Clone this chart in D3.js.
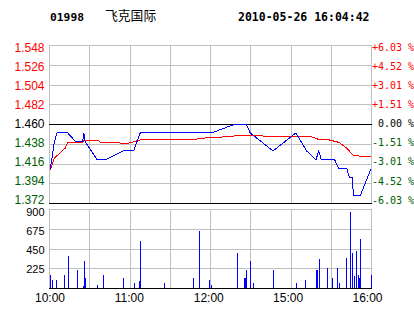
<!DOCTYPE html>
<html><head><meta charset="utf-8">
<script src="https://cdn.jsdelivr.net/npm/d3@7"></script>
<style>body{margin:0;background:#fff}svg{display:block}</style>
</head><body><svg id="c" width="414" height="314"></svg>
<script>
const stockCode = "01998";
const stockName = "飞克国际";
const stamp = "2010-05-26 16:04:42";
const preClose = 1.46;
const priceTicks = [1.372, 1.394, 1.416, 1.438, 1.460, 1.482, 1.504, 1.526, 1.548];
const pctLabels = ["-6.03 %", "-4.52 %", "-3.01 %", "-1.51 %", " 0.00 %", "+1.51 %", "+3.01 %", "+4.52 %", "+6.03 %"];
const volTicks = [0, 225, 450, 675, 900];
const timeLabels = ["10:00", "11:00", "12:00", "15:00", "16:00"];
const gridMinutes = [0, 30, 60, 90, 120, 150, 180, 210, 240];

// price line (minute index, price)
const priceMinutes = [1, 2, 4, 6, 14, 20, 25, 26, 27, 36, 42, 55, 63, 68, 121, 139, 147, 150, 167, 184, 192, 199, 201, 203, 213, 216, 222, 224, 226, 227, 232, 240];
const priceValues  = [1.41, 1.42, 1.44, 1.45, 1.45, 1.44, 1.44, 1.45, 1.44, 1.42, 1.42, 1.43, 1.43, 1.45, 1.45, 1.46, 1.46, 1.45, 1.43, 1.45, 1.43, 1.42, 1.43, 1.42, 1.42, 1.41, 1.41, 1.40, 1.40, 1.38, 1.38, 1.41];

// average price line
const avgMinutes = [1, 4, 12, 14, 25, 26, 37, 38, 59, 68, 109, 111, 125, 146, 160, 194, 200, 209, 216, 222, 227, 232, 240];
const avgValues  = [1.409, 1.422, 1.433, 1.4396, 1.4396, 1.442, 1.442, 1.4396, 1.4385, 1.4422, 1.4422, 1.444, 1.445, 1.4477, 1.4466, 1.4466, 1.4433, 1.4422, 1.4396, 1.433, 1.4247, 1.4243, 1.4243];

// volume bars
const volMinutes = [1, 2, 5, 11, 14, 21, 25, 26, 27, 36, 40, 55, 63, 67, 68, 86, 107, 112, 119, 121, 140, 145, 146, 147, 150, 152, 167, 184, 191, 199, 200, 201, 207, 211, 215, 216, 221, 224, 226, 227, 229, 230, 231, 232, 240];
const volValues  = [148, 91, 91, 148, 364, 205, 23, 307, 114, 34, 148, 114, 57, 80, 535, 57, 114, 649, 91, 34, 399, 114, 114, 205, 307, 57, 205, 57, 91, 205, 205, 330, 228, 114, 228, 57, 342, 866, 399, 137, 421, 148, 114, 558, 148];

const RED = "#ff0000", GREEN = "#006000", GRID = "#c0c0c0";
const svg = d3.select("#c");
const L = 49, R = 371;
const x = d3.scaleLinear().domain([0, 240]).range([L, R]);
const y = d3.scaleLinear().domain([1.372, 1.548]).range([203, 45]);
const yLab = d3.scaleLinear().domain([1.372, 1.548]).range([200, 47.5]);
const yv = d3.scaleLinear().domain([0, 900]).range([288, 209]);
const px = v => Math.round(v) + 0.5;

// title
svg.append("text").attr("x", 50).attr("y", 21).attr("font-family", "DejaVu Sans Mono").attr("font-weight", "bold").attr("font-size", 11.3).text(stockCode);
svg.append("text").attr("x", 105).attr("y", 20).attr("font-family", "Noto Sans CJK SC").attr("font-size", 12.8).text(stockName);
svg.append("text").attr("x", 238).attr("y", 21).attr("font-family", "DejaVu Sans Mono").attr("font-weight", "bold").attr("font-size", 11.5).text(stamp);

const g = svg.append("g").attr("shape-rendering", "crispEdges");
// vertical grid
gridMinutes.forEach(m => {
  g.append("line").attr("x1", px(x(m))).attr("x2", px(x(m))).attr("y1", 45).attr("y2", 203).attr("stroke", GRID);
  g.append("line").attr("x1", px(x(m))).attr("x2", px(x(m))).attr("y1", 209).attr("y2", 288).attr("stroke", GRID);
});
// horizontal price grid
priceTicks.forEach(p => {
  const black = Math.abs(p - preClose) < 1e-9 || p === priceTicks[0];
  g.append("line").attr("x1", L).attr("x2", px(R)).attr("y1", px(y(p))).attr("y2", px(y(p))).attr("stroke", black ? "#000" : GRID);
});
volTicks.forEach(v => {
  g.append("line").attr("x1", L).attr("x2", px(R)).attr("y1", px(yv(v))).attr("y2", px(yv(v))).attr("stroke", v === 0 ? "#000" : GRID);
});

// labels
priceTicks.forEach((p, i) => {
  const c = Math.abs(p - preClose) < 1e-9 ? "#000" : (p > preClose ? RED : GREEN);
  svg.append("text").attr("x", 44.5).attr("y", yLab(p) + 4.3).attr("text-anchor", "end")
    .attr("font-family", "Liberation Sans, Arial").attr("font-size", 12).attr("fill", c).text(p.toFixed(3));
  svg.append("text").attr("x", 372).attr("y", yLab(p) + 3.6).attr("xml:space", "preserve")
    .attr("font-family", "DejaVu Sans Mono").attr("font-size", 10).attr("fill", c).text(pctLabels[i]);
});
const volLabY = d3.scaleLinear().domain([225, 900]).range([269, 212.5]);
volTicks.filter(v => v > 0).forEach(v => {
  svg.append("text").attr("x", 44.5).attr("y", volLabY(v) + 3.5).attr("text-anchor", "end")
    .attr("font-family", "Liberation Sans, Arial").attr("font-size", 11).attr("fill", "#000").text(v);
});
const tx = d3.scaleLinear().domain([0, timeLabels.length - 1]).range([50, 367.5]);
timeLabels.forEach((t, i) => {
  svg.append("text").attr("x", tx(i)).attr("y", 302).attr("text-anchor", "middle")
    .attr("font-family", "Liberation Sans, Arial").attr("font-size", 12).attr("fill", "#000").text(t);
});

// volume bars
g.selectAll(".vb").data(volMinutes.map((m, i) => [m, volValues[i]])).enter().append("rect")
  .attr("x", d => Math.round(x(d[0]))).attr("width", 1)
  .attr("y", d => Math.round(yv(d[1]))).attr("height", d => 288 - Math.round(yv(d[1])))
  .attr("fill", "#0000ff");

// lines
const line = d3.line().x(d => x(d[0])).y(d => y(d[1]));
g.append("path").attr("d", line(avgMinutes.map((m, i) => [m, avgValues[i]]))).attr("fill", "none").attr("stroke", RED).attr("stroke-width", 1);
g.append("path").attr("d", line(priceMinutes.map((m, i) => [m, priceValues[i]]))).attr("fill", "none").attr("stroke", "#0000ff").attr("stroke-width", 1);
</script></body></html>
